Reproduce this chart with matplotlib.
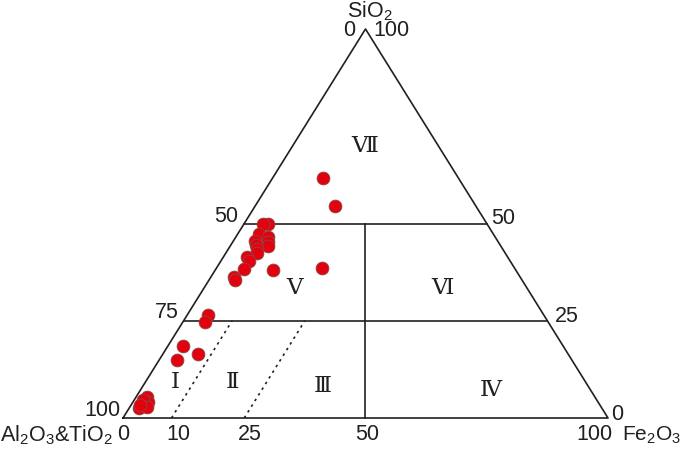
import matplotlib
matplotlib.use('Agg')
import matplotlib.pyplot as plt
import numpy as np

plt.rcParams['font.family'] = ['Liberation Sans', 'DejaVu Sans']
plt.rcParams['mathtext.fontset'] = 'custom'
plt.rcParams['mathtext.rm'] = 'Liberation Sans'
plt.rcParams['mathtext.it'] = 'Liberation Sans'

# 样品成分 (%)，SiO2 / Fe2O3 / Al2O3&TiO2
sio2 = [61.6, 54.5, 38.5, 49.9, 49.9, 47.3, 46.6, 45.3, 44.2, 45.6,
        44.5, 43.4, 42.3, 41.5, 40.4, 38.2, 38.0, 36.3, 35.5, 26.5,
        24.8, 18.6, 16.4, 14.9, 5.5, 4.2, 4.6, 2.5, 2.75, 3.3]
fe2o3 = [10.4, 16.5, 21.7, 5.0, 3.9, 4.4, 6.7, 7.3, 7.9, 4.4,
         5.2, 6.0, 6.4, 4.8, 5.8, 5.8, 12.0, 4.7, 5.3, 4.3,
         4.5, 3.1, 7.2, 3.75, 2.15, 3.1, 1.9, 1.95, 3.6, 1.85]

region_names = ['Ⅰ', 'Ⅱ', 'Ⅲ', 'Ⅳ', 'Ⅴ', 'Ⅵ', 'Ⅶ']

# 三角形顶点（像素）
x_left, x_right, y_base, y_top = 123.0, 608.0, 418.0, 29.0
W = x_right - x_left
H = y_base - y_top


def tern(a, b):
    """a = SiO2 %, b = Fe2O3 %  ->  图上坐标"""
    a = np.asarray(a, dtype=float) / 100.0
    b = np.asarray(b, dtype=float) / 100.0
    x = x_left + b * W + a * W / 2
    y = y_base - a * H
    return x, y


fig = plt.figure(figsize=(6.85, 4.49), dpi=100)
ax = fig.add_axes([0, 0, 1, 1])
ax.set_xlim(0, 685)
ax.set_ylim(449, 0)
ax.axis('off')

lc = '#231f20'
lw = 1.2


def seg(a0, b0, a1, b1, **kw):
    x, y = tern([a0, a1], [b0, b1])
    ax.plot(x, y, color=lc, lw=lw, **kw)


# 外框
x, y = tern([0, 0, 100, 0], [0, 100, 0, 0])
ax.plot(x, y, color=lc, lw=lw)
# 分区线
seg(50, 0, 50, 50)
seg(25, 0, 25, 75)
seg(50, 25, 0, 50)
seg(0, 10, 25, 10, ls=(0, (1.5, 2.5)))
seg(0, 25, 25, 25, ls=(0, (1.5, 2.5)))

# 样品点
px, py = tern(sio2, fe2o3)
ax.scatter(px, py, s=85, c='#e3000f', edgecolors='#8a4a40', linewidths=0.6, zorder=3)

# 分区编号
roman_pos = [(175, 383), (233, 383), (323, 386), (491, 390),
             (295, 289), (442, 288), (365, 146)]
for name, (tx, ty) in zip(region_names, roman_pos):
    ax.text(tx, ty, name, ha='center', va='center', fontsize=16.5,
            family=['Liberation Serif', 'DejaVu Serif'], color='#231f20')

fs = 15.5
tk = dict(ha='center', va='center', fontsize=fs, color='#231f20')
ax.text(370, 11, 'SiO$_2$', **tk)
ax.text(349, 31, '0', **tk)
ax.text(391, 31, '100', **tk)
ax.text(226, 216, '50', **tk)
ax.text(503, 219, '50', **tk)
ax.text(167, 313, '75', **tk)
ax.text(567, 317, '25', **tk)
ax.text(102, 411, '100', **tk)
ax.text(617, 414, '0', **tk)
ax.text(123, 435, '0', **tk)
ax.text(178, 435, '10', **tk)
ax.text(250, 435, '25', **tk)
ax.text(367, 435, '50', **tk)
ax.text(594, 435, '100', **tk)
ax.text(0, 435, 'Al$_2$O$_3$&TiO$_2$', ha='left', va='center', fontsize=fs, color='#231f20')
ax.text(622, 435, 'Fe$_2$O$_3$', ha='left', va='center', fontsize=15, color='#231f20')

fig.savefig('out.png', dpi=100)
